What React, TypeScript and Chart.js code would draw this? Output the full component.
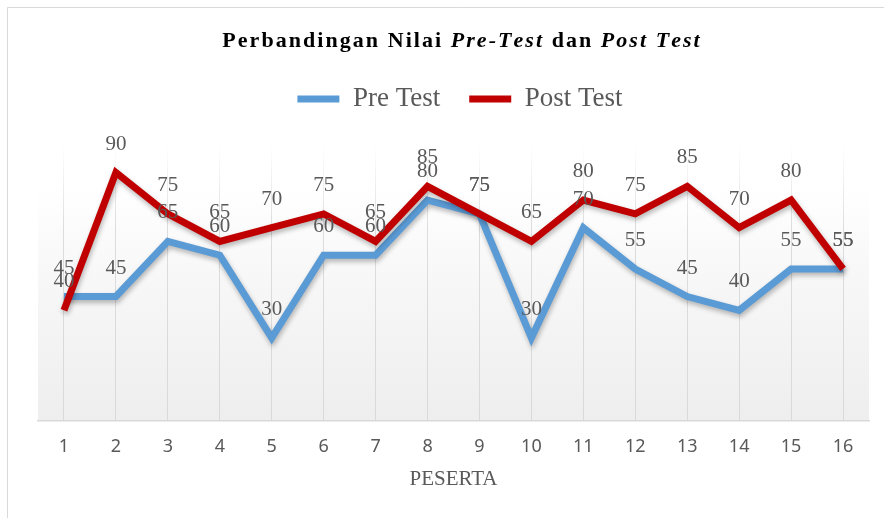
import React, { useEffect, useRef } from 'react';
import { Chart, registerables } from 'chart.js';

Chart.register(...registerables);

// ---------- data ----------
const categories = ['1', '2', '3', '4', '5', '6', '7', '8', '9', '10', '11', '12', '13', '14', '15', '16'];
const preTest = [45, 45, 65, 60, 30, 60, 60, 80, 75, 30, 70, 55, 45, 40, 55, 55];
const postTest = [40, 90, 75, 65, 70, 75, 65, 85, 75, 65, 80, 75, 85, 70, 80, 55];
const seriesNames = ['Pre Test', 'Post Test'];
const seriesColors = ['#5b9bd5', '#c00000'];
const titleParts = [
  { text: 'Perbandingan Nilai ', italic: false },
  { text: 'Pre-Test', italic: true },
  { text: ' dan ', italic: false },
  { text: 'Post Test', italic: true },
];
const xAxisTitle = 'PESERTA';

const SERIF = "'Liberation Serif', 'Times New Roman', serif";
const SANS = "'Liberation Sans Narrow', 'Noto Sans', sans-serif";
const TEXT = '#595959';

const framePlugin = {
  id: 'framePlugin',
  beforeDraw(chart: any) {
    const { ctx, chartArea: a } = chart;
    ctx.save();
    const g = ctx.createLinearGradient(0, a.top, 0, a.bottom);
    g.addColorStop(0, '#ffffff');
    g.addColorStop(0.15, '#ffffff');
    g.addColorStop(0.5, '#f7f7f7');
    g.addColorStop(1, '#eeeeee');
    ctx.fillStyle = g;
    ctx.fillRect(a.left, a.top, a.right - a.left, a.bottom - a.top);
    ctx.strokeStyle = '#d9d9d9';
    ctx.lineWidth = 1;
    ctx.beginPath();
    ctx.moveTo(7.5, chart.height);
    ctx.lineTo(7.5, 7.5);
    ctx.lineTo(chart.width, 7.5);
    ctx.stroke();
    ctx.restore();
  },
};

const TITLE_SPACING = 2.05;
const titlePlugin = {
  id: 'titlePlugin',
  afterDraw(chart: any) {
    const { ctx } = chart;
    ctx.save();
    const fontFor = (italic: boolean) => `${italic ? 'italic ' : ''}bold 22px ${SERIF}`;
    const glyphs: { ch: string; font: string; w: number }[] = [];
    titleParts.forEach((p) => {
      const f = fontFor(p.italic);
      ctx.font = f;
      for (const ch of p.text) {
        glyphs.push({ ch, font: f, w: ctx.measureText(ch).width + TITLE_SPACING });
      }
    });
    const total = glyphs.reduce((s, g) => s + g.w, 0) - TITLE_SPACING;
    let x = 461 - total / 2;
    ctx.fillStyle = '#000000';
    ctx.textBaseline = 'alphabetic';
    ctx.textAlign = 'left';
    glyphs.forEach((g) => {
      ctx.font = g.font;
      ctx.fillText(g.ch, x, 47);
      x += g.w;
    });
    ctx.restore();
  },
};

const shadowPlugin = {
  id: 'shadowPlugin',
  beforeDatasetDraw(chart: any) {
    const { ctx } = chart;
    ctx.save();
    ctx.shadowColor = 'rgba(0,0,0,0.28)';
    ctx.shadowBlur = 5;
    ctx.shadowOffsetX = 1;
    ctx.shadowOffsetY = 3;
  },
  afterDatasetDraw(chart: any) {
    chart.ctx.restore();
  },
};

const labelPlugin = {
  id: 'labelPlugin',
  afterDatasetsDraw(chart: any) {
    const { ctx } = chart;
    ctx.save();
    ctx.font = `21px ${SERIF}`;
    ctx.fillStyle = TEXT;
    ctx.textAlign = 'center';
    ctx.textBaseline = 'middle';
    chart.data.datasets.forEach((ds: any, i: number) => {
      const meta = chart.getDatasetMeta(i);
      meta.data.forEach((pt: any, j: number) => {
        ctx.fillText(String(ds.data[j]), pt.x, pt.y - 28.5);
      });
    });
    ctx.restore();
  },
};

export default function App() {
  const ref = useRef<HTMLCanvasElement>(null);

  useEffect(() => {
    document.body.style.margin = '0';
    const chart = new Chart(ref.current as HTMLCanvasElement, {
      type: 'line',
      data: {
        labels: categories,
        datasets: [
          {
            label: seriesNames[0],
            data: preTest,
            borderColor: seriesColors[0],
            backgroundColor: seriesColors[0],
            borderWidth: 7,
            pointRadius: 0,
            pointHoverRadius: 0,
            tension: 0,
            borderJoinStyle: 'miter',
            fill: false,
            order: 2,
            xAxisID: 'x',
            yAxisID: 'y',
          },
          {
            label: seriesNames[1],
            data: postTest,
            borderColor: seriesColors[1],
            backgroundColor: seriesColors[1],
            borderWidth: 7,
            pointRadius: 0,
            pointHoverRadius: 0,
            tension: 0,
            borderJoinStyle: 'miter',
            fill: false,
            order: 1,
            xAxisID: 'x',
            yAxisID: 'y',
          },
        ],
      },
      options: {
        responsive: false,
        animation: false,
        devicePixelRatio: 1,
        layout: { padding: { left: 7, top: 56.5, right: 0, bottom: 25.7 } },
        plugins: {
          title: { display: false },
          tooltip: { enabled: false },
          legend: {
            display: true,
            position: 'top',
            align: 'center',
            labels: {
              boxWidth: 42,
              boxHeight: 7,
              padding: 29,
              color: TEXT,
              font: { family: SERIF, size: 27 },
              generateLabels: (c: any) =>
                c.data.datasets.map((ds: any, i: number) => ({
                  text: ds.label,
                  fillStyle: ds.borderColor,
                  strokeStyle: ds.borderColor,
                  lineWidth: 0,
                  hidden: false,
                  datasetIndex: i,
                  fontColor: TEXT,
                })),
            },
          },
        },
        scales: {
          x: {
            type: 'category',
            position: 'bottom',
            offset: true,
            grid: {
              offset: false,
              drawTicks: false,
              lineWidth: 1,
              color: (context: any) => {
                const c = context.chart;
                const a = c.chartArea;
                if (!a) return '#d9d9d9';
                const g = c.ctx.createLinearGradient(0, a.top, 0, a.bottom);
                g.addColorStop(0, 'rgba(217,217,217,0)');
                g.addColorStop(0.3, 'rgba(217,217,217,0.9)');
                g.addColorStop(1, 'rgba(217,217,217,1)');
                return g;
              },
            },
            border: { display: true, color: '#d9d9d9', width: 1.5 },
            ticks: {
              padding: 16,
              color: TEXT,
              font: { family: SANS, size: 18 },
              maxRotation: 0,
              autoSkip: false,
            },
            title: {
              display: true,
              text: xAxisTitle,
              color: TEXT,
              font: { family: SERIF, size: 21 },
              padding: { top: -7, bottom: 0 },
            },
          },
          xTop: {
            type: 'linear',
            position: 'top',
            display: true,
            ticks: { display: false },
            grid: { display: false },
            border: { display: false },
            afterFit: (s: any) => {
              s.height = 22.5;
            },
          },
          y: {
            type: 'linear',
            position: 'left',
            min: 0,
            max: 100,
            display: true,
            ticks: { display: false },
            grid: { display: false },
            border: { display: false },
            afterFit: (s: any) => {
              s.width = 31;
            },
          },
          yR: {
            type: 'linear',
            position: 'right',
            display: true,
            ticks: { display: false },
            grid: { display: false },
            border: { display: false },
            afterFit: (s: any) => {
              s.width = 44;
            },
          },
        },
      } as any,
      plugins: [framePlugin, shadowPlugin, labelPlugin, titlePlugin],
    });
    return () => chart.destroy();
  }, []);

  return (
    <div style={{ width: 884, height: 518, overflow: 'hidden', position: 'relative' }}>
      <canvas ref={ref} width={913} height={518} style={{ display: 'block', width: 913, height: 518 }} />
    </div>
  );
}
